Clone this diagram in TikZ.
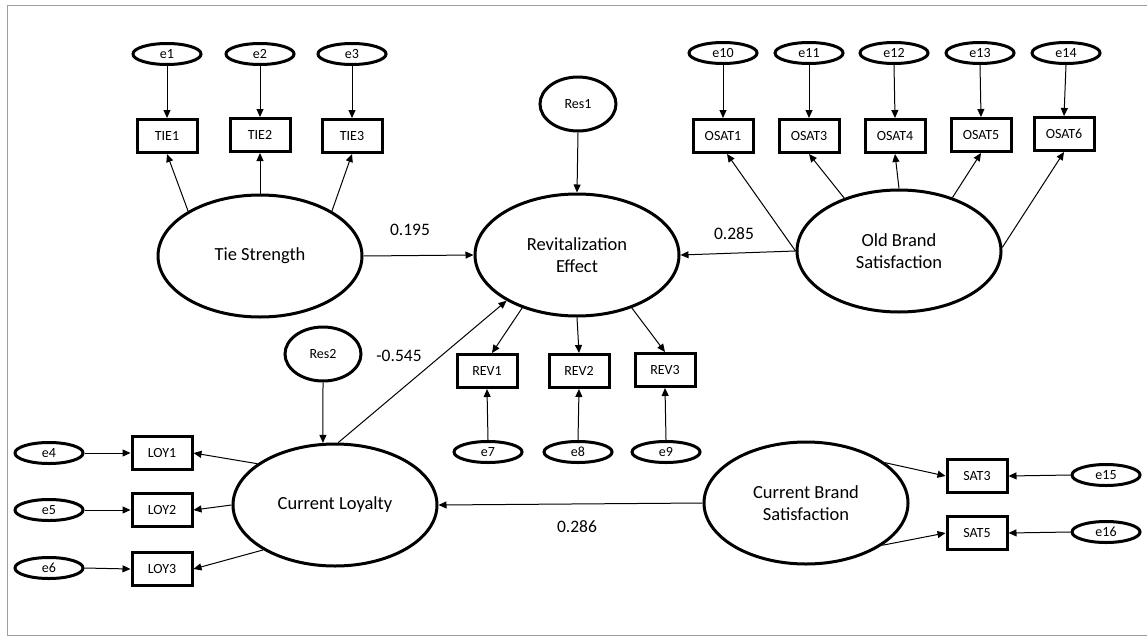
\documentclass[tikz,border=0pt]{standalone}
\usepackage{fontspec}
\setmainfont{Carlito}
\usetikzlibrary{shapes.geometric,arrows.meta}
\begin{document}
\begin{tikzpicture}[x=1pt,y=-1pt,
  err/.style={draw,ellipse,line width=3pt,minimum width=68pt,minimum height=21pt,inner sep=0pt,font=\fontsize{14}{15}\selectfont},
  res/.style={draw,ellipse,line width=3pt,minimum width=76pt,minimum height=54pt,inner sep=0pt,font=\fontsize{14}{15}\selectfont},
  obs/.style={draw,rectangle,line width=3pt,minimum width=60pt,minimum height=33pt,inner sep=0pt,font=\fontsize{14}{15}\selectfont},
  lat/.style={draw,ellipse,line width=3pt,minimum width=204pt,minimum height=122pt,inner sep=0pt,align=center,font=\fontsize{18.5}{22}\selectfont},
  coef/.style={inner sep=0pt,font=\fontsize{17.5}{20}\selectfont},
  arr/.style={-{Triangle[length=8pt,width=7pt]},line width=1pt}]
\useasboundingbox (0,0) rectangle (1147,637);
\draw[color=black!38,line width=1pt] (7,5) rectangle (1150,635);
% latent variables
\node[lat] (tie) at (260,256) {Tie Strength};
\node[lat] (rev) at (577,255) {Revitalization\\Effect};
\node[lat] (obs) at (899,251) {Old Brand\\Satisfaction};
\node[lat] (cl) at (335,505) {Current Loyalty};
\node[lat] (cbs) at (806,503) {Current Brand\\Satisfaction};
% residuals
\node[res] (res1) at (578,104) {Res1};
\node[res] (res2) at (323,354) {Res2};
% tie strength indicators
\node[obs] (tie1) at (167,136) {TIE1};
\node[obs] (tie2) at (260,135) {TIE2};
\node[obs] (tie3) at (352,136) {TIE3};
\node[err] (e1) at (167,54) {e1};
\node[err] (e2) at (260,54) {e2};
\node[err] (e3) at (352,54) {e3};
% old brand satisfaction indicators
\node[obs] (osat1) at (723,136) {OSAT1};
\node[obs] (osat3) at (809,136) {OSAT3};
\node[obs] (osat4) at (895,136) {OSAT4};
\node[obs] (osat5) at (981,135) {OSAT5};
\node[obs] (osat6) at (1064,134) {OSAT6};
\node[err] (e10) at (723,53) {e10};
\node[err] (e11) at (809,53) {e11};
\node[err] (e12) at (894,53) {e12};
\node[err] (e13) at (980,53) {e13};
\node[err] (e14) at (1066,53) {e14};
% revitalization indicators
\node[obs] (rev1) at (487,371) {REV1};
\node[obs] (rev2) at (579,371) {REV2};
\node[obs] (rev3) at (665,370) {REV3};
\node[err] (e7) at (488,452) {e7};
\node[err] (e8) at (578,452) {e8};
\node[err] (e9) at (666,452) {e9};
% loyalty indicators
\node[obs] (loy1) at (162,453) {LOY1};
\node[obs] (loy2) at (162,510) {LOY2};
\node[obs] (loy3) at (162,569) {LOY3};
\node[err] (e4) at (49,453) {e4};
\node[err] (e5) at (49,510) {e5};
\node[err] (e6) at (49,568) {e6};
% current brand satisfaction indicators
\node[obs] (sat3) at (977,476) {SAT3};
\node[obs] (sat5) at (977,533) {SAT5};
\node[err] (e15) at (1106,475) {e15};
\node[err] (e16) at (1106,532) {e16};
% coefficients
\node[coef] (c1) at (410,230) {0.195};
\node[coef] (c2) at (734,234) {0.285};
\node[coef] (c3) at (399,356) {-0.545};
\node[coef] (c4) at (577,527) {0.286};
% error arrows
\foreach \e/\o in {e1/tie1,e2/tie2,e3/tie3,e10/osat1,e11/osat3,e12/osat4,e13/osat5,e14/osat6}
  \draw[arr] (\e.south) -- (\o.north);
\foreach \e/\o in {e7/rev1,e8/rev2,e9/rev3}
  \draw[arr] (\e.north) -- (\o.south);
\foreach \e/\o in {e4/loy1,e5/loy2,e6/loy3}
  \draw[arr] (\e.east) -- (\o.west);
\foreach \e/\o in {e15/sat3,e16/sat5}
  \draw[arr] (\e.west) -- (\o.east);
\draw[arr] (res1.south) -- (rev.north);
\draw[arr] (res2.south) -- (cl.101);
% loadings
\draw[arr] (tie.148) -- (tie1.south);
\draw[arr] (tie.north) -- (tie2.south);
\draw[arr] (tie.32) -- (tie3.south);
\draw[arr] (obs.west) -- ([xshift=4pt]osat1.south);
\draw[arr] (obs.136) -- (osat3.south);
\draw[arr] (obs.north) -- (osat4.south);
\draw[arr] (obs.45) -- (osat5.south);
\draw[arr] (obs.2) -- (osat6.south);
\draw[arr] (rev.224) -- ([xshift=5pt]rev1.north);
\draw[arr] (rev.south) -- (rev2.north);
\draw[arr] (rev.316) -- (rev3.north);
\draw[arr] (cl.152) -- (loy1.east);
\draw[arr] (cl.west) -- (loy2.east);
\draw[arr] (cl.212) -- (loy3.east);
\draw[arr] (cbs.27) -- (sat3.west);
\draw[arr] (cbs.331) -- (sat5.west);
% structural paths
\draw[arr] (tie.east) -- (rev.west);
\draw[arr] (obs.west) -- (rev.east);
\draw[arr] (cl.87) -- (rev.213);
\draw[arr] (cbs.west) -- (cl.east);
\end{tikzpicture}
\end{document}
